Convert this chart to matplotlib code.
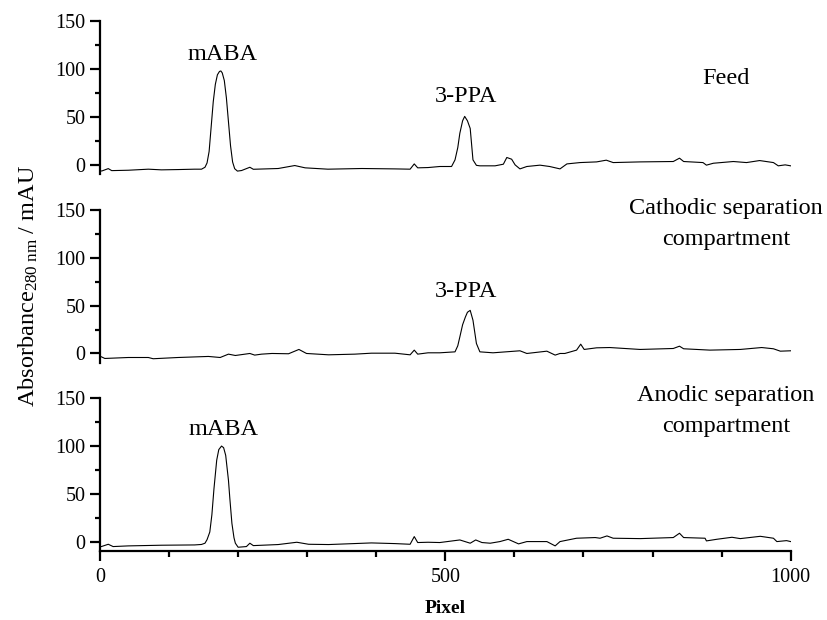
import matplotlib
matplotlib.use("Agg")
import matplotlib.pyplot as plt
from matplotlib.ticker import MultipleLocator

plt.rcParams['font.family'] = ['Liberation Serif', 'DejaVu Serif']
plt.rcParams['mathtext.fontset'] = 'custom'
plt.rcParams['mathtext.rm'] = 'Liberation Serif'
plt.rcParams['mathtext.it'] = 'Liberation Serif:italic'

feed_x = [0, 3, 12, 17, 41, 70, 89, 113, 137, 147, 152, 155, 158, 161, 164, 167, 170, 173,
          175, 177, 180, 183, 186, 189, 192, 195, 199, 205, 217, 222, 258, 282, 297, 330,
          379, 427, 449, 455, 460, 475, 492, 509, 514, 518, 521, 525, 528, 532, 536, 540,
          545, 550, 572, 584, 589, 596, 601, 608, 618, 637, 651, 666, 676, 695, 719, 733,
          743, 782, 830, 839, 845, 873, 878, 888, 917, 936, 955, 975, 982, 992, 1000]
feed_y = [-6.5, -6.3, -3.9, -6.0, -5.6, -4.5, -5.2, -4.9, -4.5, -4.5, -2.5, 2, 14, 40, 66, 84,
          94, 97.5, 98, 96, 88, 70, 45, 20, 3, -4, -6.5, -5.9, -2.5, -4.6, -3.8, -0.7, -3.1,
          -4.5, -3.8, -4.2, -4.5, 1.0, -3.1, -2.8, -1.7, -1.7, 5.2, 18, 33, 46, 50.6, 46,
          38, 5.2, -0.5, -1.0, -1.0, 0.7, 7.7, 5.9, 0, -4.2, -1.7, -0.3, -1.7, -4.2, 1.0,
          2.4, 3.1, 4.9, 2.4, 3.1, 3.5, 7.0, 3.5, 2.4, -0.3, 1.7, 3.5, 2.4, 4.5, 2.4, -1.0,
          0, -1.0]

cath_x = [0, 7, 41, 70, 77, 113, 157, 174, 186, 196, 217, 224, 234, 249, 273, 288, 299, 331,
          369, 393, 427, 449, 455, 460, 475, 492, 514, 518, 521, 525, 529, 532, 536, 540,
          545, 550, 569, 608, 618, 647, 659, 666, 673, 690, 696, 701, 719, 738, 782, 830,
          839, 845, 883, 927, 958, 975, 985, 1000]
cath_y = [-2.8, -5.2, -4.2, -4.2, -5.5, -4.2, -3.1, -4.2, -0.7, -2.1, 0, -1.7, -0.7, 0, -0.3,
          4.2, 0, -1.4, -0.7, 0.3, 0.3, -1.4, 3.5, -0.7, 0.7, 0.7, 1.7, 8, 17.3, 30, 38, 43,
          45, 34.7, 10.4, 1.7, 0.7, 2.8, 0, 2.4, -1.7, 0, 0, 3.5, 9.7, 4.2, 5.9, 6.2, 4.2,
          5.2, 7.6, 4.9, 3.5, 4.2, 6.2, 4.9, 2.4, 2.8]

anod_x = [0, 2, 12, 19, 41, 89, 137, 147, 152, 155, 159, 162, 165, 169, 172, 176, 179, 182,
          186, 188, 191, 194, 196, 200, 212, 217, 222, 258, 285, 302, 331, 393, 427, 449,
          455, 460, 475, 492, 521, 536, 544, 553, 565, 579, 591, 606, 618, 647, 659, 666,
          690, 717, 724, 734, 743, 782, 830, 839, 845, 876, 878, 893, 915, 927, 956, 975,
          980, 994, 1000]
anod_y = [-5.2, -5.2, -2.8, -5.2, -4.5, -3.8, -3.5, -3.0, -1.7, 2, 10, 28, 55, 85, 96, 99.7,
          98, 90, 64, 45, 19, 4, -1.7, -5.9, -5.2, -1.7, -4.2, -3.1, -0.7, -2.8, -3.1, -1.4,
          -2.1, -2.8, 5.2, -1.0, -0.7, -1.0, 1.7, -1.7, 1.7, -1.0, -1.7, 0, 2.4, -2.4, 0, 0,
          -4.5, 0, 3.5, 4.2, 3.5, 5.9, 3.5, 3.1, 4.2, 8.7, 4.2, 3.5, 0.7, 2.4, 4.5, 3.1, 5.5,
          3.5, 0, 1.0, 0]

traces = [(feed_x, feed_y), (cath_x, cath_y), (anod_x, anod_y)]
peak_labels = [[('mABA', 178, 109), ('3-PPA', 530, 66)],
               [('3-PPA', 530, 59)],
               [('mABA', 179, 111)]]
panel_labels = [['Feed'],
                ['Cathodic separation', 'compartment'],
                ['Anodic separation', 'compartment']]
panel_label_y = [[84], [146, 113], [147, 114.5]]

fig = plt.figure(figsize=(8.27, 6.2), dpi=100)
bottoms = [0.7194, 0.4152, 0.1118]
for i, b in enumerate(bottoms):
    ax = fig.add_axes([0.1209, b, 0.8352, 0.2465])
    xs, ys = traces[i]
    ax.plot(xs, ys, color='black', linewidth=0.8)
    ax.set_xlim(0, 1000)
    ax.set_ylim(-9.5, 150)
    ax.spines['top'].set_visible(False)
    ax.spines['right'].set_visible(False)
    ax.spines['left'].set_linewidth(1.6)
    ax.spines['bottom'].set_linewidth(1.6)
    ax.yaxis.set_major_locator(MultipleLocator(50))
    ax.yaxis.set_minor_locator(MultipleLocator(25))
    ax.tick_params(axis='y', which='major', direction='out', length=7.5, width=1.6,
                   labelsize=14.5, pad=3)
    ax.tick_params(axis='y', which='minor', direction='out', length=3.8, width=1.6)
    if i < 2:
        ax.spines['bottom'].set_visible(False)
        ax.tick_params(axis='x', which='both', bottom=False, labelbottom=False)
    else:
        ax.xaxis.set_major_locator(MultipleLocator(500))
        ax.xaxis.set_minor_locator(MultipleLocator(100))
        ax.tick_params(axis='x', which='major', direction='out', length=7.5, width=1.6,
                       labelsize=14.5, pad=5)
        ax.tick_params(axis='x', which='minor', direction='out', length=4, width=1.6)
        ax.set_xlabel('Pixel', fontsize=14, fontweight='bold', labelpad=9)
    for txt, tx, ty in peak_labels[i]:
        ax.text(tx, ty, txt, ha='center', va='baseline', fontsize=17.5, clip_on=False)
    for txt, ty in zip(panel_labels[i], panel_label_y[i]):
        ax.text(906, ty, txt, ha='center', va='baseline', fontsize=17.5, clip_on=False)

fig.text(0.034, 0.538, r'Absorbance$_{\mathrm{280\ nm}}$ / mAU', rotation=90,
         ha='center', va='center', fontsize=17.5)

fig.savefig('out.png', dpi=100)
